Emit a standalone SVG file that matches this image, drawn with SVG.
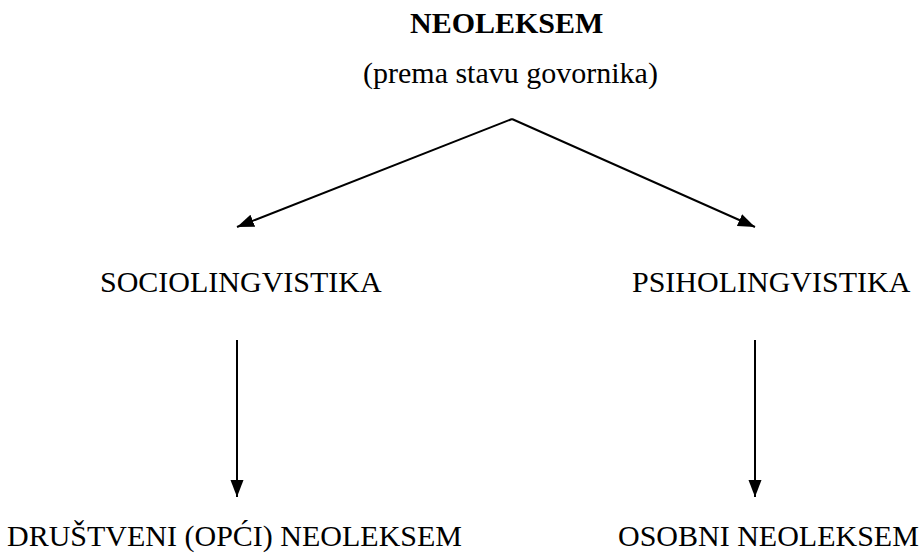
<svg xmlns="http://www.w3.org/2000/svg" width="922" height="554" viewBox="0 0 922 554">
<style>
.t{font-family:'Liberation Serif','Times New Roman',Times,'DejaVu Serif',serif;font-size:30px;fill:#000}
.b{font-weight:bold}
.c{stroke:#000;stroke-width:2;fill:none}
</style>
<defs>
<marker id="ah" markerUnits="userSpaceOnUse" markerWidth="18" markerHeight="14" refX="17" refY="7" orient="auto">
<path d="M0,0.5 L17,7 L0,13.5 Z" fill="#000"/>
</marker>
</defs>
<rect width="922" height="554" fill="#fff"/>
<g id="n-root">
<text class="t b" x="410" y="33">NEOLEKSEM</text>
<text class="t" x="363" y="83">(prema stavu govornika)</text>
</g>
<g id="n-socio"><text class="t" x="100" y="292">SOCIOLINGVISTIKA</text></g>
<g id="n-psiho"><text class="t" x="632" y="292">PSIHOLINGVISTIKA</text></g>
<g id="n-drustveni"><text class="t" x="7" y="546">DRUŠTVENI (OPĆI) NEOLEKSEM</text></g>
<g id="n-osobni"><text class="t" x="618" y="546">OSOBNI NEOLEKSEM</text></g>
<g id="connectors">
<line class="c" x1="512" y1="119" x2="237" y2="227" marker-end="url(#ah)"/>
<line class="c" x1="512" y1="119" x2="755" y2="227" marker-end="url(#ah)"/>
<line class="c" x1="237" y1="340" x2="237" y2="497" marker-end="url(#ah)"/>
<line class="c" x1="755" y1="340" x2="755" y2="497" marker-end="url(#ah)"/>
</g>
</svg>
